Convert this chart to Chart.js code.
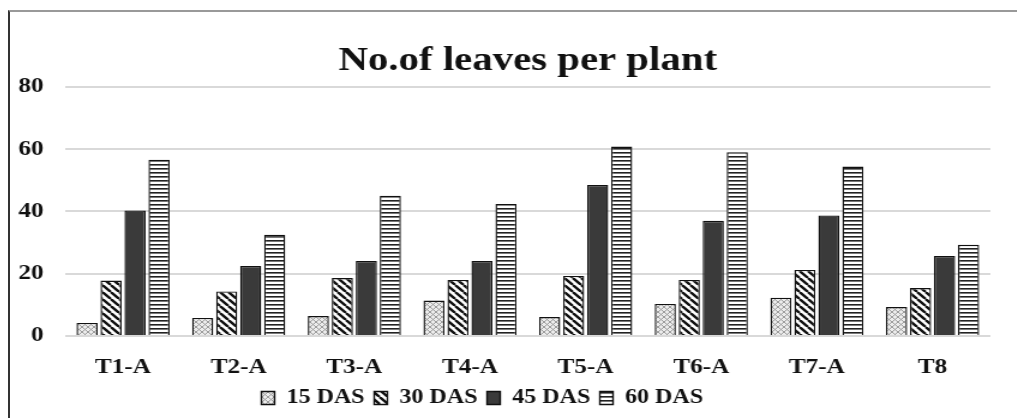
<!DOCTYPE html>
<html>
<head>
<meta charset="utf-8">
<script src="https://cdn.jsdelivr.net/npm/chart.js@4"></script>
<style>
  body { margin: 0; background: #fff; overflow: hidden; }
  #wrap {
    position: absolute; left: 8px; top: 10px;
    width: 1009px; height: 408px;
    border-left: 2px solid #333; border-top: 2px solid #999;
    overflow: hidden;
  }
  /* the reference is stretched sideways, so the chart is too */
  #leavesChart { display: block; transform: scaleX(1.2); transform-origin: 0 0; }
</style>
</head>
<body>
<div id="wrap"><canvas id="leavesChart" width="839" height="406"></canvas></div>
<script>
const categories = ['T1-A', 'T2-A', 'T3-A', 'T4-A', 'T5-A', 'T6-A', 'T7-A', 'T8'];
const das15 = [4.2, 5.8, 6.4, 11.4, 6.1, 10.3, 12.3, 9.3];
const das30 = [17.8, 14.3, 18.6, 18, 19.3, 18, 21.2, 15.4];
const das45 = [40.3, 22.5, 24.1, 24.1, 48.5, 37, 38.7, 25.7];
const das60 = [56.6, 32.5, 45, 42.4, 60.8, 59, 54.4, 29.3];
const yTicks = [0, 20, 40, 60, 80];

const serif = '"Liberation Serif", "Times New Roman", serif';

function makePattern(size, draw) {
  const c = document.createElement('canvas');
  c.width = size;
  c.height = size;
  const g = c.getContext('2d');
  draw(g, size);
  return g.createPattern(c, 'repeat');
}

const crossPattern = makePattern(5, (g, s) => {
  g.fillStyle = '#ececec';
  g.fillRect(0, 0, s, s);
  g.strokeStyle = '#8a8a8a';
  g.lineWidth = 0.8;
  g.beginPath();
  g.moveTo(0, 0); g.lineTo(s, s);
  g.moveTo(s, 0); g.lineTo(0, s);
  g.stroke();
});

const diagPattern = makePattern(7, (g, s) => {
  g.fillStyle = '#fff';
  g.fillRect(0, 0, s, s);
  g.strokeStyle = '#111';
  g.lineWidth = 2.4;
  g.beginPath();
  for (let k = -1; k <= 1; k++) {
    g.moveTo(k * s, 0);
    g.lineTo(k * s + s, s);
  }
  g.stroke();
});

const stripePattern = makePattern(4, (g, s) => {
  g.fillStyle = '#fff';
  g.fillRect(0, 0, s, s);
  g.fillStyle = '#222';
  g.fillRect(0, 0, s, 1.6);
});

const ctx = document.getElementById('leavesChart').getContext('2d');

const bar = (label, data, fill) => ({
  label: label,
  data: data,
  backgroundColor: fill,
  borderColor: '#111',
  borderWidth: 1.4,
  barPercentage: 0.88,
  categoryPercentage: 0.83
});

new Chart(ctx, {
  type: 'bar',
  data: {
    labels: categories,
    datasets: [
      bar('15 DAS', das15, crossPattern),
      bar('30 DAS', das30, diagPattern),
      bar('45 DAS', das45, '#3a3a3a'),
      bar('60 DAS', das60, stripePattern)
    ]
  },
  options: {
    responsive: false,
    animation: false,
    layout: {
      // negative left padding pulls the centred legend leftwards like the original
      padding: { left: -30, right: 22, top: 0, bottom: 0 }
    },
    scales: {
      x: {
        afterFit: (scale) => {
          scale.height = 44;
        },
        grid: { display: false, drawTicks: false },
        border: { display: false },
        ticks: {
          color: '#111',
          padding: 19,
          font: { family: serif, size: 21, weight: 'bold' }
        }
      },
      y: {
        min: 0,
        max: 80,
        afterBuildTicks: (scale) => {
          scale.ticks = yTicks.map((v) => ({ value: v }));
        },
        afterFit: (scale) => {
          scale.width = 76;
        },
        grid: { color: '#d9d9d9', lineWidth: 2, drawTicks: false },
        border: { display: false },
        ticks: {
          color: '#111',
          padding: 18,
          font: { family: serif, size: 21, weight: 'bold' }
        }
      }
    },
    plugins: {
      title: {
        display: true,
        fullSize: false,
        text: 'No.of leaves per plant',
        color: '#111',
        font: { family: serif, size: 34, weight: 'bold' },
        padding: { top: 29, bottom: 5 }
      },
      legend: {
        position: 'bottom',
        labels: {
          color: '#111',
          boxWidth: 11,
          boxHeight: 13,
          padding: 8,
          font: { family: serif, size: 20, weight: 'bold' }
        }
      },
      tooltip: { enabled: false }
    }
  }
});
</script>
</body>
</html>
